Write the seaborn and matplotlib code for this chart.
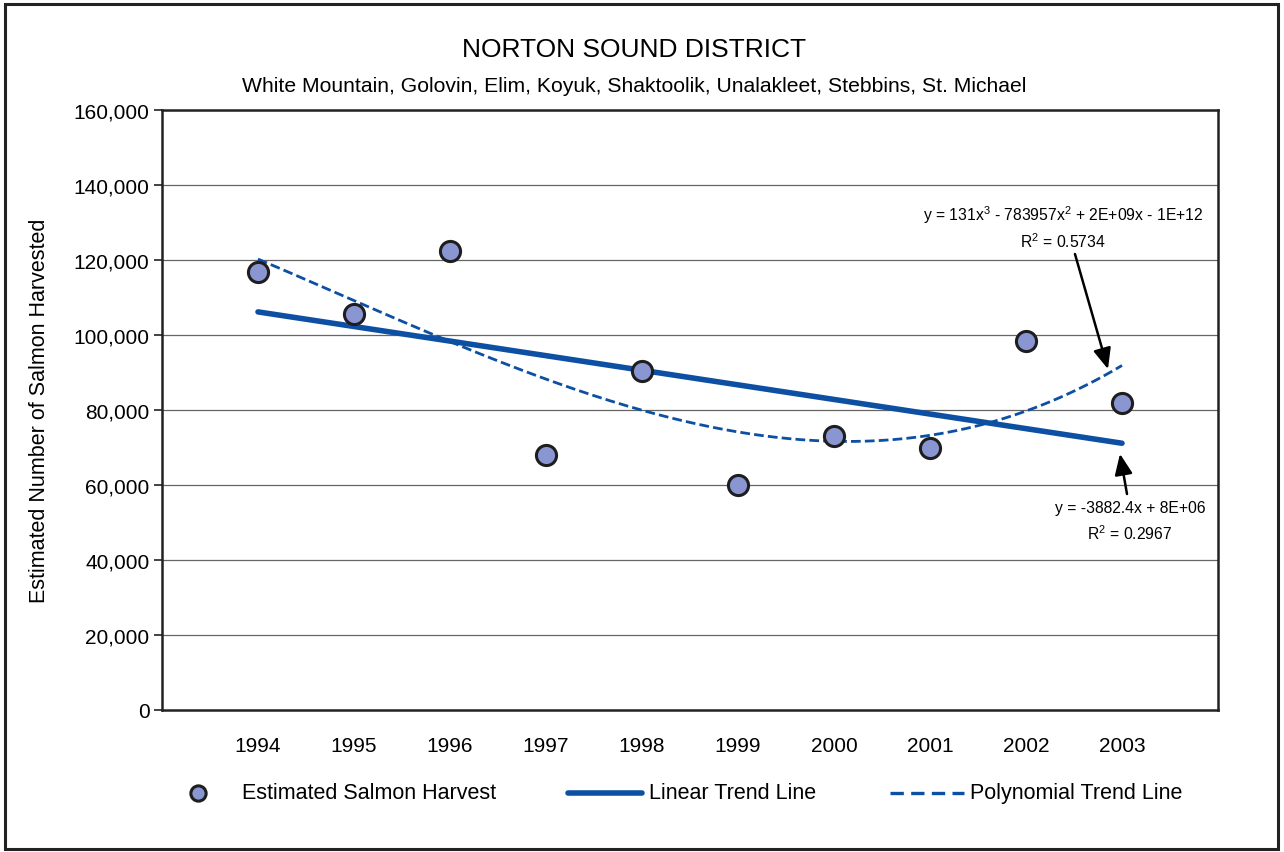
import numpy as np
import pandas as pd
import matplotlib
matplotlib.use("Agg")
import matplotlib.pyplot as plt
import seaborn as sns
from matplotlib.patches import Rectangle
from matplotlib.lines import Line2D

years = [1994, 1995, 1996, 1997, 1998, 1999, 2000, 2001, 2002, 2003]
harvest = [116800, 105600, 122400, 68000, 90400, 60000, 73100, 69900, 98400, 81900]
y_ticks = [0, 20000, 40000, 60000, 80000, 100000, 120000, 140000, 160000]

title = "NORTON SOUND DISTRICT"
subtitle = "White Mountain, Golovin, Elim, Koyuk, Shaktoolik, Unalakleet, Stebbins, St. Michael"
lin_eq = "y = -3882.4x + 8E+06"
lin_r2 = "R$^2$ = 0.2967"
poly_eq = "y = 131x$^3$ - 783957x$^2$ + 2E+09x - 1E+12"
poly_r2 = "R$^2$ = 0.5734"
legend_labels = ["Estimated Salmon Harvest", "Linear Trend Line", "Polynomial Trend Line"]

sns.set_theme(style="white")
plt.rcParams["font.family"] = ["Liberation Sans", "DejaVu Sans"]
plt.rcParams["mathtext.fontset"] = "custom"
plt.rcParams["mathtext.rm"] = "Liberation Sans"
plt.rcParams["text.color"] = "black"
plt.rcParams["axes.labelcolor"] = "black"
plt.rcParams["xtick.color"] = "black"
plt.rcParams["ytick.color"] = "black"

df = pd.DataFrame({"Year": years, "Harvest": harvest})

W, H = 1284, 853
fig = plt.figure(figsize=(W / 100, H / 100), dpi=100)
ax = fig.add_axes([162 / W, 1 - 711 / H, (1218 - 162) / W, (711 - 111) / H])

# outer frame around the whole chart
fig.patches.append(Rectangle((5 / W, 3 / H), 1273 / W, 845 / H, transform=fig.transFigure,
                             fill=False, edgecolor="#222222", linewidth=2.2))

line_color = "#0d4fa3"
marker_fill = "#8a96d2"
marker_edge = "#1e1e1e"
dash = (0, (3.5, 1.5))

x = np.array(years, dtype=float)
yv = np.array(harvest, dtype=float)
xc = x - 1998.5
lin = np.polyfit(xc, yv, 1)
poly = np.polyfit(xc, yv, 3)
xs = np.linspace(1994, 2003, 200)
lin_df = pd.DataFrame({"Year": xs, "v": np.polyval(lin, xs - 1998.5)})
poly_df = pd.DataFrame({"Year": xs, "v": np.polyval(poly, xs - 1998.5)})

for yt in y_ticks[1:]:
    ax.axhline(yt, color="#666666", linewidth=0.9, zorder=0)

sns.lineplot(data=lin_df, x="Year", y="v", ax=ax, color=line_color, linewidth=4,
             solid_capstyle="round", zorder=2)
sns.lineplot(data=poly_df, x="Year", y="v", ax=ax, color=line_color, linewidth=2.0,
             linestyle=dash, zorder=2)
sns.scatterplot(data=df, x="Year", y="Harvest", ax=ax, s=210, color=marker_fill,
                edgecolor=marker_edge, linewidth=2.2, zorder=3)

ax.set_xlim(1993, 2004)
ax.set_ylim(0, 160000)
ax.set_xticks(years)
ax.set_xticklabels([str(v) for v in years], fontsize=15)
ax.set_yticks(y_ticks)
ax.set_yticklabels([f"{v:,}" for v in y_ticks], fontsize=15)
ax.tick_params(axis="y", length=6, width=1.2, color="#222222", pad=3, direction="out", left=True)
ax.tick_params(axis="x", length=0, pad=19)
ax.set_xlabel("")
ax.set_ylabel("Estimated Number of Salmon Harvested", fontsize=15.5)
ax.yaxis.set_label_coords((50 - 162) / (1218 - 162), 0.5)
for s in ax.spines.values():
    s.set_color("#222222")
    s.set_linewidth(1.8)

fig.text(634 / W, 1 - 50 / H, title, ha="center", va="center", fontsize=19)
fig.text(634 / W, 1 - 86 / H, subtitle, ha="center", va="center", fontsize=15.2)

# trend-line equations with arrows
arrow = dict(arrowstyle="-|>,head_length=0.7,head_width=0.3", color="black", lw=1.8,
             mutation_scale=18, shrinkA=0, shrinkB=0)
ax.text(2002.385, 132300, poly_eq, ha="center", va="center", fontsize=11.3)
ax.text(2002.385, 125100, poly_r2, ha="center", va="center", fontsize=11.3)
ax.annotate("", xy=(2002.854, 90900), xytext=(2002.51, 121600), arrowprops=arrow)
ax.text(2003.083, 53870, lin_eq, ha="center", va="center", fontsize=11.3)
ax.text(2003.083, 47200, lin_r2, ha="center", va="center", fontsize=11.3)
ax.annotate("", xy=(2002.979, 68300), xytext=(2003.052, 57600), arrowprops=arrow)

# legend row
ly = 1 - 794 / H
fig.add_artist(Line2D([198 / W], [ly], marker="o", linestyle="none", markersize=11,
                      markerfacecolor=marker_fill, markeredgecolor=marker_edge,
                      markeredgewidth=2.2, transform=fig.transFigure))
fig.add_artist(Line2D([568 / W, 642 / W], [ly, ly], color=line_color, linewidth=4,
                      transform=fig.transFigure))
fig.add_artist(Line2D([890 / W, 964 / W], [ly, ly], color=line_color, linewidth=2.4,
                      linestyle=(0, (4, 2.2)), transform=fig.transFigure))
for px, lab in zip([242, 649, 970], legend_labels):
    fig.text(px / W, ly, lab, ha="left", va="center", fontsize=15.5)

fig.savefig("out.png", dpi=100)
